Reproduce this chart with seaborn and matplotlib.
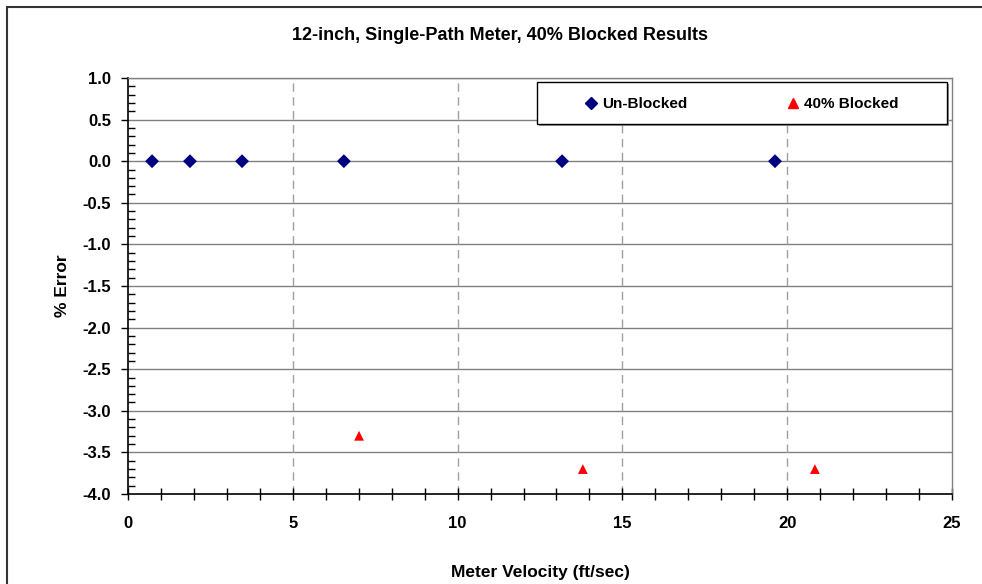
import numpy as np
import pandas as pd
import matplotlib
matplotlib.use("Agg")
import matplotlib.pyplot as plt
import seaborn as sns
from matplotlib.ticker import MultipleLocator, FormatStrFormatter
from matplotlib.lines import Line2D
from matplotlib.patches import Rectangle

# data
unblocked_vel = [0.73, 1.88, 3.46, 6.55, 13.17, 19.63]
unblocked_err = [0.0, 0.0, 0.0, 0.0, 0.0, 0.0]
blocked_vel = [7.01, 13.80, 20.84]
blocked_err = [-3.30, -3.70, -3.70]
series_names = ["Un-Blocked", "40% Blocked"]

df = pd.DataFrame({
    "vel": unblocked_vel + blocked_vel,
    "err": unblocked_err + blocked_err,
    "series": [series_names[0]] * len(unblocked_vel) + [series_names[1]] * len(blocked_vel),
})

sns.set_style("white")
plt.rcParams["font.family"] = ["Liberation Sans", "DejaVu Sans"]
plt.rcParams["font.weight"] = "bold"
plt.rcParams["axes.unicode_minus"] = False
for key in ["text.color", "axes.labelcolor", "xtick.color", "ytick.color"]:
    plt.rcParams[key] = "black"

fig = plt.figure(figsize=(9.82, 5.84), dpi=100)
ax = fig.add_axes([128 / 982, 90 / 584, 824 / 982, 416 / 584])

# horizontal grid solid, vertical grid dashed
for yv in np.arange(-3.5, 1.01, 0.5):
    ax.axhline(yv, color="#808080", lw=1.0, zorder=0)
for xv in [5, 10, 15, 20]:
    ax.axvline(xv, color="#a0a0a0", lw=1.0, ls=(0, (6, 4)), zorder=0)

sns.scatterplot(data=df, x="vel", y="err", hue="series", style="series",
                palette={series_names[0]: "#000080", series_names[1]: "#ff0000"},
                markers={series_names[0]: "D", series_names[1]: "^"},
                s=50, edgecolor="none", legend=False, ax=ax, zorder=3)

ax.set_xlim(0, 25)
ax.set_ylim(-4, 1)
ax.xaxis.set_major_locator(MultipleLocator(5))
ax.xaxis.set_minor_locator(MultipleLocator(1))
ax.yaxis.set_major_locator(MultipleLocator(0.5))
ax.yaxis.set_minor_locator(MultipleLocator(0.1))
ax.yaxis.set_major_formatter(FormatStrFormatter("%.1f"))

ax.tick_params(axis="x", which="both", direction="inout", length=8, width=1, color="black",
               labelsize=12, pad=12, bottom=True)
ax.tick_params(axis="y", which="major", direction="out", length=5, width=1, color="black",
               labelsize=12, pad=7, left=True)
ax.tick_params(axis="y", which="minor", direction="in", length=5, width=1, color="black",
               left=True)
for lab in ax.get_xticklabels() + ax.get_yticklabels():
    lab.set_fontweight("bold")

for side in ["left", "bottom"]:
    ax.spines[side].set_color("black")
    ax.spines[side].set_linewidth(1.2)
for side in ["top", "right"]:
    ax.spines[side].set_color("#808080")
    ax.spines[side].set_linewidth(1.0)

ax.set_xlabel("Meter Velocity (ft/sec)", fontsize=12.5, fontweight="bold", labelpad=24)
ax.set_ylabel("% Error", fontsize=12.5, fontweight="bold", labelpad=9)
fig.text(500 / 982, 1 - 35 / 584, "12-inch, Single-Path Meter, 40% Blocked Results",
         ha="center", va="center", fontsize=13, fontweight="bold")

# legend box with slight shadow, entries placed inside without their own frame
shadow = Rectangle((539 / 982, 1 - 126 / 584), 410 / 982, 42 / 584, transform=fig.transFigure,
                   facecolor="#9a9a9a", edgecolor="none", zorder=4)
frame = Rectangle((537 / 982, 1 - 124 / 584), 410 / 982, 42 / 584, transform=fig.transFigure,
                  facecolor="white", edgecolor="black", lw=1.0, zorder=4.5)
fig.add_artist(shadow)
fig.add_artist(frame)
handles = [Line2D([], [], ls="none", marker="D", color="#000080", markersize=6),
           Line2D([], [], ls="none", marker="^", color="#ff0000", markersize=7)]
leg = fig.legend(handles, series_names, ncol=2, loc="center left",
                 bbox_to_anchor=(576 / 982, 1 - 104 / 584), frameon=False,
                 columnspacing=6.45, handletextpad=0.2, borderpad=0.0, handlelength=1.0,
                 prop={"size": 11, "weight": "bold"})
leg.set_zorder(6)

# outer chart border (left and top visible)
fig.add_artist(Line2D([7 / 982, 7 / 982], [0, 1 - 7 / 584], color="#333333", lw=1.5,
                      transform=fig.transFigure))
fig.add_artist(Line2D([7 / 982, 1], [1 - 7 / 584, 1 - 7 / 584], color="#333333", lw=1.5,
                      transform=fig.transFigure))

fig.savefig("out.png", dpi=100)
